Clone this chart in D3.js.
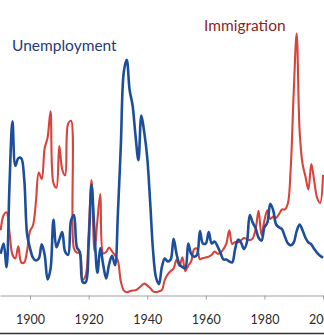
<!DOCTYPE html>
<html>
<head>
<meta charset="utf-8">
<script src="https://cdn.jsdelivr.net/npm/d3@7"></script>
<style>
html,body{margin:0;padding:0;background:#fff;}
svg{display:block;}
</style>
</head>
<body>
<svg id="chart" width="324" height="335"></svg>
<script>
// ---- data ----
const startYear = 1890;
const endYear = 2000;
const tickYears = [1900, 1920, 1940, 1960, 1980, 2000];

// Unemployment rate (%)
const unemployment = [
  4.4, 5.5, 3.0, 11.7, 18.4, 13.7, 14.5, 14.5, 12.4, 6.5,
  5.0, 4.0, 3.7, 3.9, 5.4, 4.3, 1.7, 2.8, 8.0, 5.1,
  5.9, 6.7, 4.6, 4.3, 7.9, 8.5, 5.1, 4.6, 1.4, 1.4,
  5.2, 11.7, 6.7, 2.4, 5.0, 3.2, 1.8, 3.3, 4.2, 3.2,
  8.7, 15.9, 23.6, 24.9, 21.7, 20.1, 16.9, 14.3, 19.0, 17.2,
  14.6, 9.9, 4.7, 1.9, 1.2, 3.0, 3.9, 3.6, 3.8, 6.0,
  4.4, 3.3, 3.0, 2.9, 5.5, 4.4, 4.1, 4.3, 6.8, 5.5,
  5.5, 6.7, 5.5, 5.7, 5.2, 4.5, 3.8, 3.8, 3.6, 3.5,
  4.9, 5.9, 5.6, 4.9, 5.6, 8.5, 7.7, 7.1, 6.1, 5.8,
  7.2, 7.7, 9.7, 9.0, 7.5, 7.2, 7.0, 6.2, 5.5, 5.3,
  5.6, 6.8, 7.5, 6.9, 6.1, 5.6, 5.4, 4.9, 4.5, 4.2,
  4.0
];

// Immigration (thousands of persons per year)
const immigration = [
  455, 560, 580, 440, 286, 259, 343, 231, 229, 312,
  449, 488, 649, 857, 813, 1026, 1101, 1285, 783, 752,
  1042, 879, 838, 1198, 1218, 327, 299, 295, 111, 141,
  430, 805, 310, 523, 707, 294, 304, 335, 307, 280,
  242, 97, 36, 23, 29, 35, 36, 50, 68, 83,
  71, 52, 29, 24, 29, 38, 109, 147, 171, 188,
  249, 206, 266, 170, 208, 238, 322, 327, 253, 261,
  265, 271, 284, 306, 292, 297, 323, 362, 454, 359,
  373, 370, 385, 400, 394, 386, 399, 462, 590, 420,
  524, 595, 534, 550, 542, 568, 600, 600, 641, 900,
  1420, 1827, 1150, 920, 830, 740, 916, 798, 680, 645,
  841
];

const years = d3.range(startYear, endYear + 1);

// ---- layout ----
const W = 324, H = 335;
const axisY = 295.5;

const svg = d3.select("#chart");

const x = d3.scaleLinear().domain([1889.76, 2000.33]).range([0, W]);
const yU = d3.scaleLinear().domain([0, 30]).range([axisY, 11.5]);
const yI = d3.scaleLinear().domain([0, 2000]).range([axisY, 8.7]);

// axis
const axis = svg.append("g")
  .attr("transform", `translate(0,${axisY})`)
  .call(d3.axisBottom(x).tickValues(tickYears).tickFormat(d3.format("d"))
        .tickSize(4).tickSizeOuter(0).tickPadding(16));
axis.select(".domain").attr("stroke", "#a0a0a0").attr("stroke-width", 1);
axis.selectAll(".tick line").attr("stroke", "#a0a0a0");
axis.selectAll(".tick text")
  .attr("fill", "#2b2b2b")
  .style("font-family", "Lato, 'Noto Sans', sans-serif")
  .style("font-size", "12.5px");

// bottom frame line
svg.append("line")
  .attr("x1", 0).attr("x2", W)
  .attr("y1", 333.5).attr("y2", 333.5)
  .attr("stroke", "#333").attr("stroke-width", 1.5);

const curve = d3.curveCatmullRom.alpha(0.5);

const lineI = d3.line()
  .x((d, i) => x(years[i]))
  .y(d => yI(d))
  .curve(curve);

const lineU = d3.line()
  .x((d, i) => x(years[i]))
  .y(d => yU(d))
  .curve(curve);

svg.append("path")
  .datum(immigration)
  .attr("d", lineI)
  .attr("fill", "none")
  .attr("stroke", "#d8443c")
  .attr("stroke-width", 2.1)
  .attr("stroke-linejoin", "round");

svg.append("path")
  .datum(unemployment)
  .attr("d", lineU)
  .attr("fill", "none")
  .attr("stroke", "#1d4e9b")
  .attr("stroke-width", 2.6)
  .attr("stroke-linejoin", "round");

// labels
svg.append("text")
  .attr("x", 12).attr("y", 51)
  .attr("fill", "#1f3c7a")
  .style("font-family", "Lato, 'Noto Sans', sans-serif")
  .style("font-size", "15.5px")
  .text("Unemployment");

svg.append("text")
  .attr("x", 204).attr("y", 30.7)
  .attr("fill", "#8e1f1f")
  .style("font-family", "Lato, 'Noto Sans', sans-serif")
  .style("font-size", "15.5px")
  .text("Immigration");
</script>
</body>
</html>
